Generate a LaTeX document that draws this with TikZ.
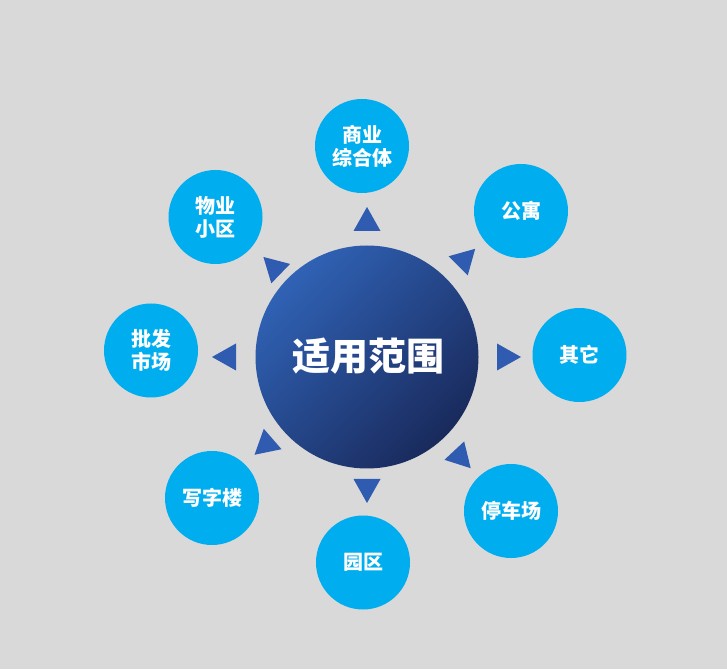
\documentclass[tikz,border=0pt]{standalone}
\usepackage{fontspec}
\newfontfamily\cjk{Noto Sans CJK SC}
\definecolor{bg}{HTML}{D9D9D9}
\definecolor{satc}{HTML}{00AEEF}
\definecolor{tric}{HTML}{2F5BB0}
\definecolor{ctop}{HTML}{3062B5}
\definecolor{cbot}{HTML}{192A5C}
\begin{document}
\begin{tikzpicture}[x=1pt,y=1pt,
  sat/.style={circle, fill=satc, minimum size=94pt, inner sep=0pt, text=white,
    font=\cjk\bfseries\fontsize{20}{23}\selectfont, align=center},
  tri/.style={fill=tric}]
\fill[bg] (0,0) rectangle (727,669);
\useasboundingbox (0,0) rectangle (727,669);
% centre
\shade[top color=ctop, bottom color=cbot, shading angle=45] (367,312) circle (111.5);
\node[circle, minimum size=223pt, inner sep=0pt, text=white,
  font=\cjk\bfseries\fontsize{38}{40}\selectfont] (c) at (368,313) {适用范围};
% satellites
\node[sat] (s1) at (362,523) {商业\\综合体};
\node[sat] (s2) at (521,458) {公寓};
\node[sat] (s3) at (579.5,314) {其它};
\node[sat] (s4) at (511,158) {停车场};
\node[sat] (s5) at (363,106.5) {园区};
\node[sat] (s6) at (212,171) {写字楼};
\node[sat] (s7) at (151,318.5) {批发\\市场};
\node[sat] (s8) at (215.5,452) {物业\\小区};
% triangles
\foreach \ang/\d in {90/134, 45/137, 0/138, -47/136, -90/130, -139/133, 180/139, 136/128}{
  \begin{scope}[shift={(367,312)}, rotate=\ang]
    \fill[tri] (\d+16,0) -- (\d-8,13.5) -- (\d-8,-13.5) -- cycle;
  \end{scope}
}
\end{tikzpicture}
\end{document}
